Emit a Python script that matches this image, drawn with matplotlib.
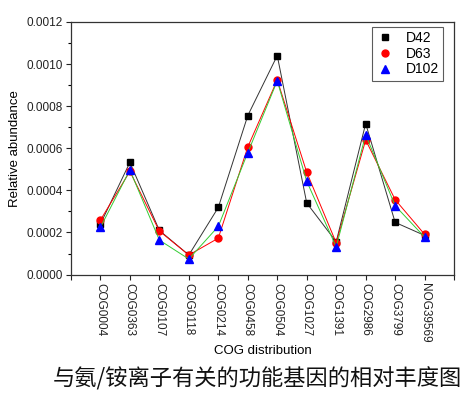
import matplotlib.pyplot as plt
from matplotlib.ticker import MultipleLocator

plt.rcParams['font.family'] = ['Liberation Sans', 'DejaVu Sans']

# data
cogs = ['COG0004', 'COG0363', 'COG0107', 'COG0118', 'COG0214', 'COG0458',
        'COG0504', 'COG1027', 'COG1391', 'COG2986', 'COG3799', 'NOG39569']
d42 = [0.000240, 0.000533, 0.000210, 0.000093, 0.000319, 0.000755,
       0.001040, 0.000340, 0.000156, 0.000717, 0.000248, 0.000186]
d63 = [0.000259, 0.000490, 0.000207, 0.000093, 0.000173, 0.000606,
       0.000924, 0.000486, 0.000151, 0.000639, 0.000356, 0.000191]
d102 = [0.000224, 0.000497, 0.000164, 0.000074, 0.000229, 0.000579,
        0.000920, 0.000443, 0.000132, 0.000664, 0.000327, 0.000178]

fig = plt.figure(figsize=(4.76, 3.98), dpi=100)
ax = fig.add_axes([0.149, 0.310, 0.805, 0.635])

x = list(range(1, len(cogs) + 1))
ax.plot(x, d42, color='#333333', lw=0.7, marker='s', ms=4.5,
        mfc='black', mec='black', label='D42')
ax.plot(x, d63, color='red', lw=0.7, marker='o', ms=5,
        mfc='red', mec='red', label='D63')
ax.plot(x, d102, color='#33cc33', lw=0.7, marker='^', ms=5.5,
        mfc='blue', mec='blue', label='D102')

ax.set_xlim(0, 13)
ax.set_ylim(0, 0.0012)
ax.set_xticks(range(0, 14))
ax.set_xticklabels([''] + cogs + [''], rotation=270, fontsize=8.3)
ax.yaxis.set_major_locator(MultipleLocator(0.0002))
ax.yaxis.set_minor_locator(MultipleLocator(0.0001))
ax.yaxis.set_major_formatter(plt.FuncFormatter(lambda v, p: '%.4f' % v))
ax.tick_params(axis='both', direction='out', length=3.6, width=0.8, pad=2.5,
               labelsize=8.5, colors='#222222')
ax.tick_params(axis='y', which='minor', direction='out', length=2.2, width=0.8)
for s in ax.spines.values():
    s.set_linewidth(0.9)
    s.set_color('#333333')

ax.set_xlabel('COG distribution', fontsize=9.5, labelpad=2)
ax.set_ylabel('Relative abundance', fontsize=9.5, labelpad=4)

leg = ax.legend(loc='upper right', bbox_to_anchor=(0.971, 0.98),
                fontsize=10, frameon=True, fancybox=False,
                handlelength=1.2, handletextpad=0.9, borderpad=0.3,
                labelspacing=0.12, borderaxespad=0)
leg.get_frame().set_edgecolor('#333333')
leg.get_frame().set_linewidth(0.8)
for h in leg.get_lines():
    h.set_linestyle('none')

fig.text(0.54, 0.048, '与氨/铵离子有关的功能基因的相对丰度图',
         family=['Noto Sans CJK SC', 'DejaVu Sans'], fontsize=16,
         ha='center', va='center', color='#111111')

fig.savefig('out.png', dpi=100)
